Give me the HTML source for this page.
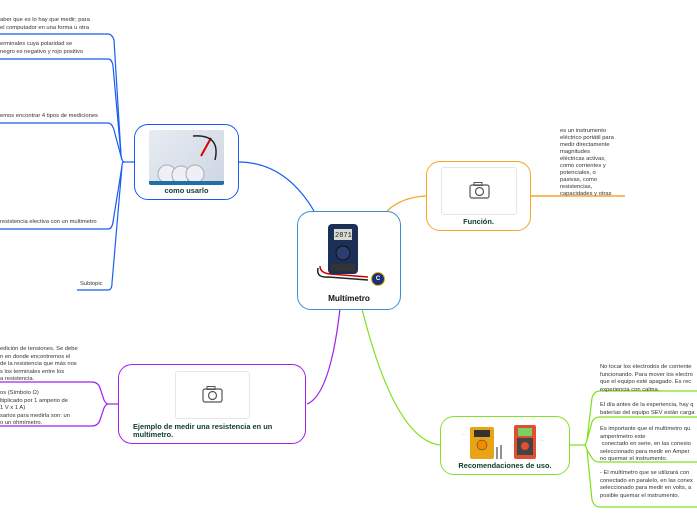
<!DOCTYPE html>
<html><head><meta charset="utf-8">
<style>
html,body{margin:0;padding:0;background:#fff;}
body{width:697px;height:520px;position:relative;overflow:hidden;font-family:"Liberation Sans",sans-serif;}
.t{position:absolute;font-size:5.8px;line-height:7.6px;color:#333;white-space:nowrap;}
.node{position:absolute;box-sizing:border-box;background:#fff;}
.lbl{position:absolute;font-weight:bold;color:#0f3b2e;font-size:7.4px;white-space:nowrap;}
.ph{position:absolute;border:1px solid #e6e6e6;border-radius:3px;background:#fff;box-sizing:border-box;}
</style></head><body>
<svg width="697" height="520" style="position:absolute;left:0;top:0">
<g fill="none" stroke-width="1.2">
<path d="M134,162 L123,162" stroke="#1a5cf0"/>
<path d="M0,34 L108,34 Q112,34 114,40 L121,155 Q122,162 124,162" stroke="#1a5cf0"/>
<path d="M0,59 L108,59 Q112,59 113,66 L121,155" stroke="#1a5cf0"/>
<path d="M0,123 L108,123 Q112,123 114,130 L122,160" stroke="#1a5cf0"/>
<path d="M0,229 L108,229 Q112,229 113,222 L122,166 Q122,162 124,162" stroke="#1a5cf0"/>
<path d="M77,290 L108,290 Q112,290 112,283 L122,166" stroke="#1a5cf0"/>
<path d="M238,162 Q285,162 314,211" stroke="#1a5cf0"/>
<path d="M387,211 Q402,197 426,196" stroke="#f5a623"/>
<path d="M531,196 L625,196" stroke="#f5a623" stroke-width="1.5"/>
<path d="M340,309 Q330,395 307,404" stroke="#a020f0"/>
<path d="M118,404 L107,404" stroke="#a020f0"/>
<path d="M0,382 L92,382 Q98,382 100,388 L104,400 Q106,404 108,404" stroke="#a020f0"/>
<path d="M0,426 L92,426 Q98,426 100,420 L104,408 Q106,404 108,404" stroke="#a020f0"/>
<path d="M362,309 Q395,440 440,445" stroke="#7fe01a"/>
<path d="M569,445 L585,445" stroke="#7fe01a"/>
<path d="M697,391 L600,391 Q594,391 592,398 L587,440 Q586,445 584,445" stroke="#7fe01a"/>
<path d="M697,417 L600,417 Q594,417 592,422 L587,440" stroke="#7fe01a"/>
<path d="M697,462 L600,462 Q594,462 592,458 L587,450" stroke="#7fe01a"/>
<path d="M697,507 L600,507 Q594,507 592,500 L587,450 Q586,445 584,445" stroke="#7fe01a"/>
</g>
</svg>

<div class="t" style="left:0;top:17px">aber que es lo hay que medir; para<br>el computador en una forma u otra</div>
<div class="t" style="left:0;top:41px">erminales cuya polaridad se<br>negro es negativo y rojo positivo</div>
<div class="t" style="left:0;top:113px">emos encontrar 4 tipos de mediciones</div>
<div class="t" style="left:0;top:219px">resistencia electiva con un multimetro</div>
<div class="t" style="left:80px;top:281px">Subtopic</div>

<div class="t" style="left:0;top:346px">edición de tensiones. Se debe<br>n en donde encontremos el<br>de la resistencia que más nos<br>s los terminales entre los<br>a resistencia.</div>
<div class="t" style="left:0;top:390px">os (Símbolo Ω)<br>ltiplicado por 1 amperio de<br>1 V x 1 A)<br>sarios para medirla son: un<br>o un ohmímetro.</div>

<div class="t" style="left:560px;top:128px;line-height:7px">es un instrumento<br>eléctrico portátil para<br>medir directamente<br>magnitudes<br>eléctricas activas,<br>como corrientes y<br>potenciales, o<br>pasivas, como<br>resistencias,<br>capacidades y otras</div>

<div class="t" style="left:600px;top:364px">No tocar los electrodos de corriente<br>funcionando. Para mover los electro<br>que el equipo esté apagado. Es rec<br>experiencia con calma.</div>
<div class="t" style="left:600px;top:402px">El día antes de la experiencia, hay q<br>baterías del equipo SEV están carga</div>
<div class="t" style="left:600px;top:426px">Es importante que el multímetro qu<br>amperímetro este<br>&nbsp;conectado en serie, en las conexio<br>seleccionado para medir en Amper<br>no quemar el instrumento.</div>
<div class="t" style="left:600px;top:470px">- El multímetro que se utilizará con<br>conectado en paralelo, en las conex<br>seleccionado para medir en volts, a<br>posible quemar el instrumento.</div>

<div class="node" style="left:297px;top:211px;width:104px;height:99px;border:1.2px solid #3a8fd6;border-radius:14px;">
  <svg width="60" height="62" style="position:absolute;left:16px;top:10px">
    <path d="M4,46 Q2,56 14,55 L54,58" stroke="#222" stroke-width="1.5" fill="none"/>
    <path d="M6,44 Q6,51 16,52 L54,55" stroke="#c00" stroke-width="1.5" fill="none"/>
    <rect x="14" y="2" width="30" height="50" rx="4" fill="#1c2f57"/>
    <rect x="20" y="7" width="18" height="11" fill="#d9dcd0"/>
    <text x="21" y="15" font-size="7" font-family="Liberation Mono" fill="#222">2871</text>
    <circle cx="29" cy="31" r="7" fill="#2b3e70" stroke="#111"/>
    <rect x="17" y="42" width="24" height="7" fill="#333"/>
  </svg>
  <div style="position:absolute;left:73px;top:60px;width:12px;height:12px;border-radius:50%;background:#1a2f78;border:1.5px solid #e8b400;color:#fff;font-size:6px;font-weight:bold;text-align:center;line-height:12px">C</div>
  <div class="lbl" style="left:0;right:0;top:82px;text-align:center;font-size:8.2px;color:#111">Multímetro</div>
</div>

<div class="node" style="left:134px;top:124px;width:105px;height:76px;border:1.3px solid #1a5cf0;border-radius:14px;">
  <div style="position:absolute;left:14px;top:5px;width:75px;height:55px;background:linear-gradient(135deg,#e8ecf2,#cdd6e2);border-radius:2px;overflow:hidden">
    <svg width="75" height="55"><circle cx="18" cy="44" r="9" fill="#eef0f6" stroke="#aab"/><circle cx="32" cy="45" r="9" fill="#eef0f6" stroke="#aab"/><circle cx="46" cy="44" r="9" fill="#eef0f6" stroke="#aab"/><path d="M62,8 L52,26" stroke="#d00" stroke-width="2"/><path d="M44,6 Q72,4 66,30" stroke="#222" stroke-width="1.5" fill="none"/><rect x="0" y="51" width="75" height="4" fill="#1f6fa8"/></svg>
  </div>
  <div class="lbl" style="left:0;right:0;top:61px;text-align:center">como usarlo</div>
</div>

<div class="node" style="left:426px;top:161px;width:105px;height:70px;border:1.2px solid #f5a623;border-radius:14px;">
  <div class="ph" style="left:14px;top:5px;width:76px;height:48px;">
    <svg width="76" height="48"><rect x="28" y="17" width="19" height="13" rx="2" fill="none" stroke="#555" stroke-width="1.2"/><rect x="32" y="14.5" width="8" height="3" fill="none" stroke="#555"/><circle cx="37.5" cy="23.5" r="4" fill="none" stroke="#555" stroke-width="1.2"/></svg>
  </div>
  <div class="lbl" style="left:0;right:0;top:55px;text-align:center">Función.</div>
</div>

<div class="node" style="left:118px;top:364px;width:188px;height:80px;border:1.3px solid #a020f0;border-radius:14px;">
  <div class="ph" style="left:56px;top:6px;width:75px;height:48px;">
    <svg width="75" height="48"><rect x="27" y="17" width="19" height="13" rx="2" fill="none" stroke="#555" stroke-width="1.2"/><rect x="31" y="14.5" width="8" height="3" fill="none" stroke="#555"/><circle cx="36.5" cy="23.5" r="4" fill="none" stroke="#555" stroke-width="1.2"/></svg>
  </div>
  <div class="lbl" style="left:14px;top:58px;line-height:8px">Ejemplo de medir una resistencia en un<br>multímetro.</div>
</div>

<div class="node" style="left:440px;top:416px;width:130px;height:59px;border:1.2px solid #88e02a;border-radius:14px;">
  <svg width="100" height="40" style="position:absolute;left:20px;top:4px">
    <rect x="9" y="6" width="24" height="32" rx="2" fill="#e8a317"/><rect x="13" y="9" width="16" height="7" fill="#333"/><circle cx="21" cy="24" r="5" fill="#f08a00" stroke="#333" stroke-width=".5"/>
    <path d="M36,26 L36,38 M40,24 L40,38" stroke="#222"/>
    <rect x="53" y="4" width="22" height="34" rx="2" fill="#e05030"/><rect x="57" y="7" width="14" height="8" fill="#7ad060"/><rect x="56" y="17" width="16" height="17" fill="#444"/><circle cx="64" cy="25" r="4" fill="#e05030"/>
    <text x="0" y="14" font-size="3" fill="#33f">......</text><text x="78" y="20" font-size="3" fill="#33f">......</text>
  </svg>
  <div class="lbl" style="left:0;right:0;top:44px;text-align:center">Recomendaciones de uso.</div>
</div>
</body></html>
